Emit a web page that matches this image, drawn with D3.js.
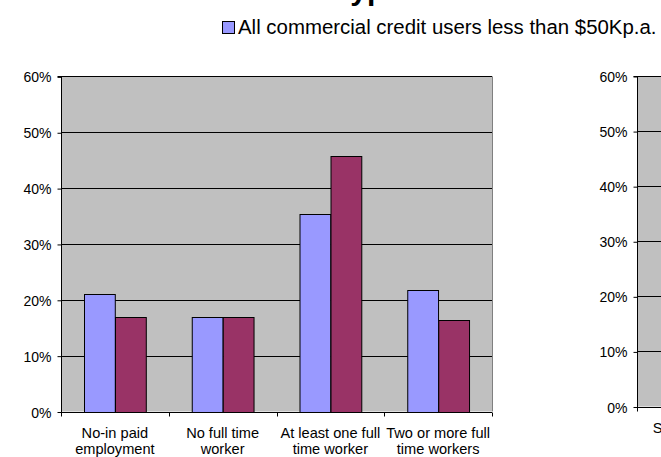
<!DOCTYPE html>
<html>
<head>
<meta charset="utf-8">
<script src="https://cdn.jsdelivr.net/npm/d3@7"></script>
<style>
  html, body { margin: 0; padding: 0; background: #fff; }
  svg { display: block; font-family: "Liberation Sans", Arial, sans-serif; }
</style>
</head>
<body>
<svg id="chart" width="661" height="457"></svg>
<script>
// Household employment categories (left panel)
const categories = [
  ["No-in paid", "employment"],
  ["No full time", "worker"],
  ["At least one full", "time worker"],
  ["Two or more full", "time workers"]
];
const seriesNames = ["All commercial credit users less than $50Kp.a.", "Comparison group"];
// Shares in percent
const blueValues = [21.0, 16.9, 35.4, 21.8];
const redValues  = [17.0, 17.0, 45.8, 16.4];

// Second panel (continues to the right)
const rightCategories = [["Single adult"]];
const rightBlueValues = [33.1];

const yTicks = [0, 10, 20, 30, 40, 50, 60];
const titleText = "Household type";

const colors = { blue: "#9999FF", red: "#993366", plot: "#C0C0C0", border: "#808080" };

const svg = d3.select("#chart");

// Title (sits above the top edge; only descenders reach into view)
svg.append("text")
  .attr("x", 402).attr("y", 0)
  .attr("text-anchor", "end")
  .attr("font-size", 30).attr("font-weight", "bold")
  .attr("fill", "#000")
  .text(titleText);

// Legend
const legend = svg.append("g");
legend.append("rect")
  .attr("x", 222.5).attr("y", 21.5).attr("width", 12).attr("height", 12)
  .attr("fill", colors.blue).attr("stroke", "#000").attr("stroke-width", 1);
const legText = legend.append("text")
  .attr("x", 238).attr("y", 33.5)
  .attr("font-size", 20).attr("fill", "#000")
  .text(seriesNames[0]);
// fit legend text to its slot
const w20 = legText.node().getComputedTextLength();
legText.attr("font-size", 20 * 419 / w20);

function drawPanel(opts) {
  const { left, right, top, bottom, cats, series, gridRight } = opts;
  const g = svg.append("g");
  const y = d3.scaleLinear().domain([0, 60]).range([bottom, top]);
  const x0 = d3.scaleBand().domain(d3.range(cats.length)).range([left, right]).padding(0);
  const x1 = d3.scaleBand().domain(d3.range(series.length)).range([0, x0.bandwidth()])
    .paddingInner(0).paddingOuter(0.75);

  g.append("rect")
    .attr("x", left).attr("y", y(60))
    .attr("width", right - left).attr("height", y(0) - y(60))
    .attr("fill", colors.plot);

  // gridlines
  g.append("g").selectAll("line").data(yTicks.filter(t => t > 0)).join("line")
    .attr("x1", left).attr("x2", right)
    .attr("y1", d => Math.round(y(d)) + 0.5).attr("y2", d => Math.round(y(d)) + 0.5)
    .attr("stroke", "#000").attr("stroke-width", 1);

  // right border of plot area
  if (gridRight) {
    g.append("line")
      .attr("x1", right + 0.5).attr("x2", right + 0.5)
      .attr("y1", y(60)).attr("y2", y(0))
      .attr("stroke", colors.border).attr("stroke-width", 1);
  }

  // bars
  const groups = g.append("g").selectAll("g").data(cats.map((c, i) => i)).join("g")
    .attr("transform", i => `translate(${x0(i)},0)`);
  groups.selectAll("rect")
    .data(i => series.map((s, k) => ({ k, v: s.values[i], color: s.color })).filter(d => d.v != null))
    .join("rect")
    .attr("x", d => Math.round(x1(d.k)) + 0.5)
    .attr("y", d => Math.round(y(d.v)) + 0.5)
    .attr("width", x1.bandwidth())
    .attr("height", d => Math.round(y(0)) - Math.round(y(d.v)))
    .attr("fill", d => d.color)
    .attr("stroke", "#000").attr("stroke-width", 1);

  // y axis
  const yAxis = d3.axisLeft(y).tickValues(yTicks).tickFormat(d => d + "%")
    .tickSize(4).tickPadding(6);
  const ya = g.append("g").attr("transform", `translate(${Math.round(left) + 0.5},0.5)`).call(yAxis);
  ya.select(".domain").attr("stroke", "#000").attr("d", `M-4,${Math.round(y(60))}H0V${Math.round(y(0))}`);
  ya.selectAll(".tick line").attr("stroke", "#000");
  ya.selectAll(".tick text").attr("font-size", 14).attr("font-family", "Liberation Sans, Arial, sans-serif")
    .attr("fill", "#000").attr("dy", "0.36em");

  // x axis baseline and category separators
  const yb = Math.round(y(0)) + 0.5;
  g.append("line").attr("x1", left).attr("x2", right).attr("y1", yb).attr("y2", yb)
    .attr("stroke", "#000");
  g.append("g").selectAll("line").data(d3.range(cats.length + 1)).join("line")
    .attr("x1", i => Math.round(left + i * x0.step()) + 0.5)
    .attr("x2", i => Math.round(left + i * x0.step()) + 0.5)
    .attr("y1", yb).attr("y2", yb + 4)
    .attr("stroke", "#000");

  // category labels
  const lab = g.append("g").selectAll("text").data(cats).join("text")
    .attr("x", (d, i) => x0(i) + x0.bandwidth() / 2)
    .attr("y", yb + 25.5)
    .attr("text-anchor", "middle")
    .attr("font-size", 14.6).attr("fill", "#000");
  lab.selectAll("tspan").data(d => d).join("tspan")
    .attr("x", function () { return this.parentNode.getAttribute("x"); })
    .attr("dy", (d, i) => i === 0 ? 0 : 16)
    .text(d => d);
}

drawPanel({
  left: 61, right: 492, top: 76.4, bottom: 411.5,
  cats: categories,
  series: [
    { values: blueValues, color: colors.blue },
    { values: redValues, color: colors.red }
  ],
  gridRight: true
});

drawPanel({
  left: 637, right: 637 + 431, top: 76, bottom: 406.5,
  cats: rightCategories.concat([[""], [""], [""]]),
  series: [
    { values: rightBlueValues, color: colors.blue }
  ],
  gridRight: true
});
</script>
</body>
</html>
